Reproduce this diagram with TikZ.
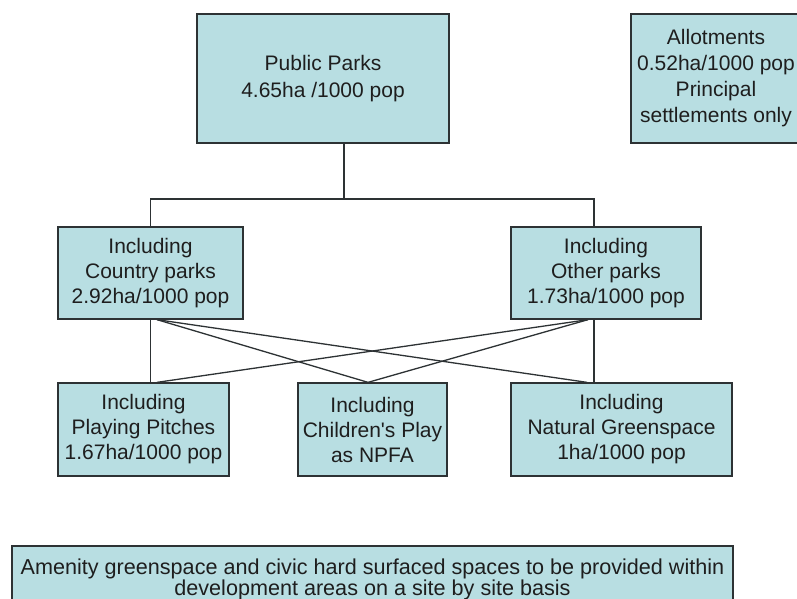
\documentclass[tikz,border=0pt]{standalone}
\usepackage{fontspec}
\setmainfont{Liberation Sans}
\definecolor{boxfill}{RGB}{184,222,226}
\definecolor{boxline}{RGB}{45,50,52}
\definecolor{inktext}{RGB}{30,30,30}

\begin{document}
\begin{tikzpicture}
  [x=1pt, y=-1pt, line width=1.3pt, draw=boxline,
   box/.style={draw=boxline, fill=boxfill, text=inktext, align=center, inner sep=0pt,
     font=\fontsize{21}{25}\selectfont}]
	\clip (0,0) rectangle (797,599);
	\fill [white] (0,0) rectangle (797,599);

	\node [name=parks, box, minimum width=252, minimum height=129, font=\fontsize{21}{27}\selectfont] at (323,78.5) {Public Parks\\4.65ha /1000 pop};
	\node [name=allot, box, minimum width=170, minimum height=129, font=\fontsize{21}{26}\selectfont] at (716,78.5) {Allotments\\0.52ha/1000 pop\\Principal\\settlements only};

	\node [name=country, box, minimum width=185, minimum height=92] at (150.5,273) {Including\\Country parks\\2.92ha/1000 pop};
	\node [name=other, box, minimum width=190, minimum height=92] at (606,273) {Including\\Other parks\\1.73ha/1000 pop};

	\node [name=pitch, box, minimum width=171, minimum height=93] at (143.5,429.5) {Including\\Playing Pitches\\1.67ha/1000 pop};
	\node [name=play, box, minimum width=149, minimum height=93] at (372.5,429.5) {Including\\Children\textquotesingle s Play\\as NPFA};
	\node [name=natural, box, minimum width=221, minimum height=93] at (621.5,429.5) {Including\\Natural Greenspace\\1ha/1000 pop};

	\node [name=amenity, box, minimum width=721, minimum height=66, font=\fontsize{21.6}{21}\selectfont] at (372.5,579)
		{Amenity greenspace and civic hard surfaced spaces to be provided within\\development areas on a site by site basis};

	% tree from public parks down to the two park types
	\coordinate (fork) at (344,199);
	\draw ([xshift=21pt]parks.south) -- (fork);
	\draw (country.north) |- (fork) -| ([xshift=-12pt]other.north);

	% straight drops
	\path (country.south) edge (country.south |- pitch.north)
				([xshift=-12pt]other.south) edge ([xshift=-12pt]other.south |- natural.north);

	% cross links
	\path ([xshift=6.5pt]country.south) edge ([xshift=-4.5pt]play.north)
				([xshift=6.5pt]country.south) edge ([xshift=-34.5pt]natural.north)
				([xshift=-18pt]other.south) edge ([xshift=13.5pt]pitch.north)
				([xshift=-18pt]other.south) edge ([xshift=-4.5pt]play.north);
\end{tikzpicture}
\end{document}
